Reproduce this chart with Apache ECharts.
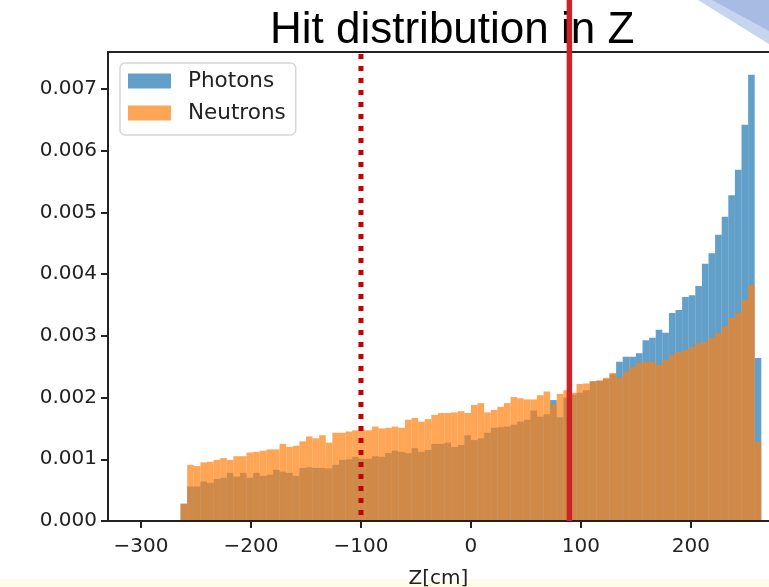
<!DOCTYPE html>
<html><head><meta charset="utf-8">
<script src="https://cdn.jsdelivr.net/npm/echarts@6/dist/echarts.min.js"></script>
<style>html,body{margin:0;padding:0;background:#fff}#c{width:769px;height:587px}</style>
</head><body><div id="c"></div>
<script>
// Histogram bins: left edge of first bin and bin width (cm)
const binStart = -264;
const binWidth = 6;

// Normalised hit density per bin
const photons = [
  0.00028,0.00056,0.00056,0.00064,0.00062,0.00068,0.00070,0.00078,0.00072,0.00078,
  0.00070,0.00078,0.00073,0.00075,0.00083,0.00080,0.00078,0.00073,0.00086,0.00087,
  0.00086,0.00086,0.00085,0.00091,0.00099,0.00100,0.00104,0.00101,0.00101,0.00105,
  0.00104,0.00110,0.00114,0.00112,0.00110,0.00118,0.00112,0.00115,0.00125,0.00125,
  0.00127,0.00120,0.00123,0.00139,0.00131,0.00134,0.00143,0.00151,0.00152,0.00153,
  0.00156,0.00161,0.00164,0.00179,0.00169,0.00173,0.00196,0.00168,0.00200,0.00205,
  0.00208,0.00212,0.00226,0.00227,0.00230,0.00238,0.00258,0.00266,0.00266,0.00272,
  0.00293,0.00297,0.00310,0.00305,0.00337,0.00342,0.00363,0.00366,0.00381,0.00417,
  0.00434,0.00464,0.00493,0.00528,0.00569,0.00642,0.00723,0.00264
];
const neutrons = [
  0.00028,0.00091,0.00089,0.00095,0.00096,0.00099,0.00102,0.00099,0.00105,0.00105,
  0.00111,0.00112,0.00114,0.00116,0.00116,0.00125,0.00120,0.00122,0.00129,0.00137,
  0.00134,0.00139,0.00127,0.00143,0.00143,0.00145,0.00147,0.00148,0.00147,0.00153,
  0.00150,0.00151,0.00153,0.00151,0.00164,0.00167,0.00161,0.00165,0.00172,0.00175,
  0.00175,0.00176,0.00178,0.00175,0.00188,0.00191,0.00176,0.00180,0.00185,0.00191,
  0.00201,0.00199,0.00197,0.00197,0.00204,0.00210,0.00189,0.00206,0.00212,0.00208,
  0.00222,0.00223,0.00227,0.00228,0.00232,0.00240,0.00232,0.00242,0.00250,0.00256,
  0.00258,0.00258,0.00253,0.00261,0.00269,0.00274,0.00277,0.00282,0.00288,0.00290,
  0.00297,0.00305,0.00315,0.00329,0.00337,0.00358,0.00382,0.00128
];

const xTicks = [-300, -200, -100, 0, 100, 200];
const yTicks = [0, 0.001, 0.002, 0.003, 0.004, 0.005, 0.006, 0.007];
const dottedCut = -100;
const solidCut = 89.5;

const blue = 'rgba(31,119,180,0.7)';
const orange = 'rgba(255,127,14,0.7)';
const FONT = 'DejaVu Sans';

function toBins(vals) {
  return vals.map((v, i) => [binStart + i * binWidth, binStart + (i + 1) * binWidth, v]);
}
function barRenderer(color) {
  return function (params, api) {
    const p0 = api.coord([api.value(0), api.value(2)]);
    const p1 = api.coord([api.value(1), 0]);
    return {
      type: 'rect',
      shape: { x: p0[0], y: p0[1], width: p1[0] - p0[0], height: p1[1] - p0[1] },
      style: { fill: color }
    };
  };
}

const spine = { color: '#222', width: 2 };
const chart = echarts.init(document.getElementById('c'));
chart.setOption({
  animation: false,
  backgroundColor: '#fff',
  title: {
    text: 'Hit distribution in Z',
    left: 270, top: 9, padding: 0,
    textStyle: { fontFamily: 'Liberation Sans', fontSize: 44, fontWeight: 'normal', color: '#000' }
  },
  grid: { left: 108, top: 52, right: 0, bottom: 66, outerBoundsMode: 'none', containLabel: false },
  legend: {
    left: 120, top: 63, orient: 'vertical',
    padding: [7, 10, 11, 8], itemGap: 10,
    itemWidth: 43, itemHeight: 15, icon: 'rect',
    borderColor: '#d6d6d6', borderWidth: 1.5, borderRadius: 5, backgroundColor: '#fff',
    textStyle: { fontFamily: FONT, fontSize: 21.5, color: '#222', padding: [0, 0, 0, 12] },
    data: ['Photons', 'Neutrons']
  },
  xAxis: [{
    type: 'value', min: -330, max: 271, z: 10, position: 'bottom',
    name: 'Z[cm]', nameLocation: 'middle', nameGap: 48,
    nameTextStyle: { fontFamily: FONT, fontSize: 20, color: '#222' },
    axisLine: { show: true, onZero: false, lineStyle: spine },
    axisTick: { show: true, length: 7, lineStyle: spine, customValues: xTicks },
    axisLabel: { fontFamily: FONT, fontSize: 20, color: '#222', margin: 16, customValues: xTicks,
      formatter: v => (v < 0 ? '\u2212' + Math.abs(v) : String(v)) },
    splitLine: { show: false }
  }, {
    type: 'value', min: -330, max: 271, z: 10, position: 'top',
    axisLine: { show: true, onZero: false, lineStyle: spine },
    axisTick: { show: false }, axisLabel: { show: false }, splitLine: { show: false }
  }],
  yAxis: {
    type: 'value', min: 0, max: 0.0076, z: 10, position: 'left',
    axisLine: { show: true, onZero: false, lineStyle: spine },
    axisTick: { show: true, length: 7, lineStyle: spine, customValues: yTicks },
    axisLabel: { fontFamily: FONT, fontSize: 20, color: '#222', margin: 11, customValues: yTicks,
      formatter: v => v.toFixed(3) },
    splitLine: { show: false }
  },
  series: [
    { name: 'Photons', type: 'custom', renderItem: barRenderer(blue), itemStyle: { color: blue },
      encode: { x: [0, 1], y: 2 }, data: toBins(photons), z: 2 },
    { name: 'Neutrons', type: 'custom', renderItem: barRenderer(orange), itemStyle: { color: orange },
      encode: { x: [0, 1], y: 2 }, data: toBins(neutrons), z: 3 }
  ]
});

// cut lines placed through the axis scales
const xd = chart.convertToPixel({ xAxisIndex: 0 }, dottedCut);
const xs = chart.convertToPixel({ xAxisIndex: 0 }, solidCut);
const y0 = chart.convertToPixel({ yAxisIndex: 0 }, 0);
const yTop = chart.convertToPixel({ yAxisIndex: 0 }, 0.0076);
chart.setOption({
  graphic: [
    { type: 'polygon', shape: { points: [[698, 0], [769, 0], [769, 44]] }, style: { fill: '#c7d4ee' }, z: 1 },
    { type: 'polygon', shape: { points: [[712, 0], [769, 0], [769, 31]] }, style: { fill: '#a7bbe3' }, z: 1 },
    { type: 'rect', shape: { x: 0, y: 579, width: 769, height: 8 }, style: { fill: '#fdfbea' }, z: 0 },
    { type: 'line', shape: { x1: xd, y1: yTop + 2, x2: xd, y2: y0 },
      style: { stroke: '#c40000', lineWidth: 5, lineDash: [5, 7], lineCap: 'butt' }, z: 20 },
    { type: 'line', shape: { x1: xs, y1: 0, x2: xs, y2: y0 },
      style: { stroke: '#cd2327', lineWidth: 5.5 }, z: 20 }
  ]
});
</script>
</body></html>
